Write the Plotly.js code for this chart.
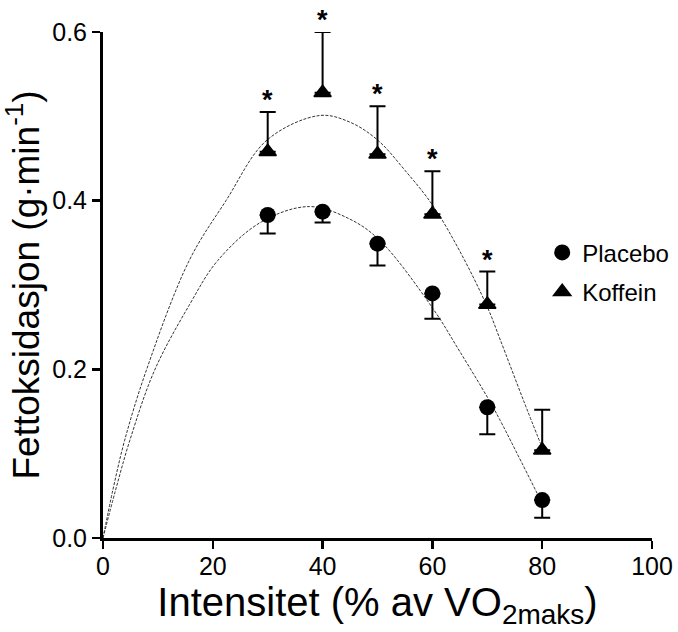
<!DOCTYPE html>
<html>
<head>
<meta charset="utf-8">
<script src="https://cdn.plot.ly/plotly-3.0.1.min.js"></script>
<style>
html,body{margin:0;padding:0;background:#fff;}
#chart{width:678px;height:632px;}
</style>
</head>
<body>
<div id="chart"></div>
<script>
// Measured points (mean, SEM)
const intensity = [30, 40, 50, 60, 70, 80];
const placeboMean = [0.383, 0.387, 0.349, 0.290, 0.155, 0.045];
const placeboSem  = [0.022, 0.013, 0.026, 0.030, 0.032, 0.021];
const koffeinMean = [0.458, 0.528, 0.455, 0.384, 0.277, 0.104];
const koffeinSem  = [0.047, 0.072, 0.057, 0.051, 0.039, 0.048];
const significant = [true, true, true, true, true, false];

// Fitted curves
const placeboFitX = [0, 2.3, 4.9, 9.4, 15.7, 20.9, 28.9, 37.6, 45, 50.4, 60.1, 65, 70.1, 72.3, 80];
const placeboFitY = [0, 0.057, 0.116, 0.199, 0.276, 0.329, 0.375, 0.393, 0.378, 0.353, 0.272, 0.221, 0.166, 0.140, 0.041];
const koffeinFitX = [0, 1.8, 3.95, 7.9, 15.7, 22.4, 29.9, 39.5, 45, 50, 55, 60, 65, 70, 72.3, 76.6, 80];
const koffeinFitY = [0, 0.057, 0.116, 0.199, 0.329, 0.400, 0.472, 0.501, 0.493, 0.472, 0.436, 0.395, 0.340, 0.274, 0.236, 0.163, 0.107];

const xTicks = [0, 20, 40, 60, 80, 100];
const yTicks = [0, 0.2, 0.4, 0.6];

const FONT = 'Liberation Sans, Arial, Helvetica, sans-serif';
const fitLine = {color: '#333', width: 1, dash: '3px,1.5px', shape: 'spline', smoothing: 1};

const zeros = intensity.map(() => 0);

const traces = [
  {x: placeboFitX, y: placeboFitY, mode: 'lines', line: fitLine, showlegend: false, hoverinfo: 'skip'},
  {x: koffeinFitX, y: koffeinFitY, mode: 'lines', line: fitLine, showlegend: false, hoverinfo: 'skip'},
  {
    x: intensity, y: placeboMean, name: 'Placebo', mode: 'markers', legendgroup: 'p',
    marker: {symbol: 'circle', size: 16, color: '#000'},
    error_y: {type: 'data', symmetric: false, array: zeros, arrayminus: placeboSem, color: '#000', thickness: 2, width: 8}
  },
  {
    x: intensity, y: koffeinMean, name: 'Koffein', mode: 'markers', legendgroup: 'k',
    marker: {symbol: 'triangle-up', size: 15, color: '#000', line: {color: '#000', width: 1.5}},
    error_y: {type: 'data', symmetric: false, array: koffeinSem, arrayminus: zeros, color: '#000', thickness: 2, width: 8}
  }
];

const annotations = intensity.map((x, i) => significant[i] ? {
  x: x, y: koffeinMean[i] + koffeinSem[i], xref: 'x', yref: 'y',
  text: '*', showarrow: false, yanchor: 'bottom', yshift: -5,
  font: {family: FONT, size: 27, color: '#000', weight: 'bold'}
} : null).filter(a => a);

const layout = {
  width: 678, height: 632,
  margin: {l: 103, r: 26, t: 32, b: 94, autoexpand: false},
  paper_bgcolor: '#fff', plot_bgcolor: '#fff',
  font: {family: FONT, color: '#000'},
  showlegend: true,
  legend: {
    x: 0.80, y: 0.608, xanchor: 'left', yanchor: 'top',
    font: {family: FONT, size: 24, color: '#000'},
    traceorder: 'grouped', tracegroupgap: 5,
    bgcolor: 'rgba(0,0,0,0)'
  },
  xaxis: {
    range: [0, 100], tickvals: xTicks, ticktext: xTicks.map(String),
    showline: true, linecolor: '#000', linewidth: 3, mirror: false,
    ticks: 'outside', ticklen: 8, tickwidth: 2.5, tickcolor: '#000',
    ticklabelstandoff: -4,
    showgrid: false, zeroline: false, automargin: false,
    tickfont: {family: FONT, size: 25, color: '#000'},
    title: {text: 'Intensitet (% av VO<sub>2maks</sub>)', font: {family: FONT, size: 40, color: '#000'}, standoff: 8}
  },
  yaxis: {
    range: [0, 0.6], tickvals: yTicks, ticktext: yTicks.map(v => v.toFixed(1)),
    showline: true, linecolor: '#000', linewidth: 3, mirror: false,
    ticks: 'outside', ticklen: 8, tickwidth: 2.5, tickcolor: '#000',
    showgrid: false, zeroline: false, automargin: false,
    tickfont: {family: FONT, size: 25, color: '#000'},
    title: {text: 'Fettoksidasjon (g·min<sup>-1</sup>)', font: {family: FONT, size: 37, color: '#000'}, standoff: 2}
  },
  annotations: annotations
};

Plotly.newPlot('chart', traces, layout, {displayModeBar: false, staticPlot: true});
</script>
</body>
</html>
